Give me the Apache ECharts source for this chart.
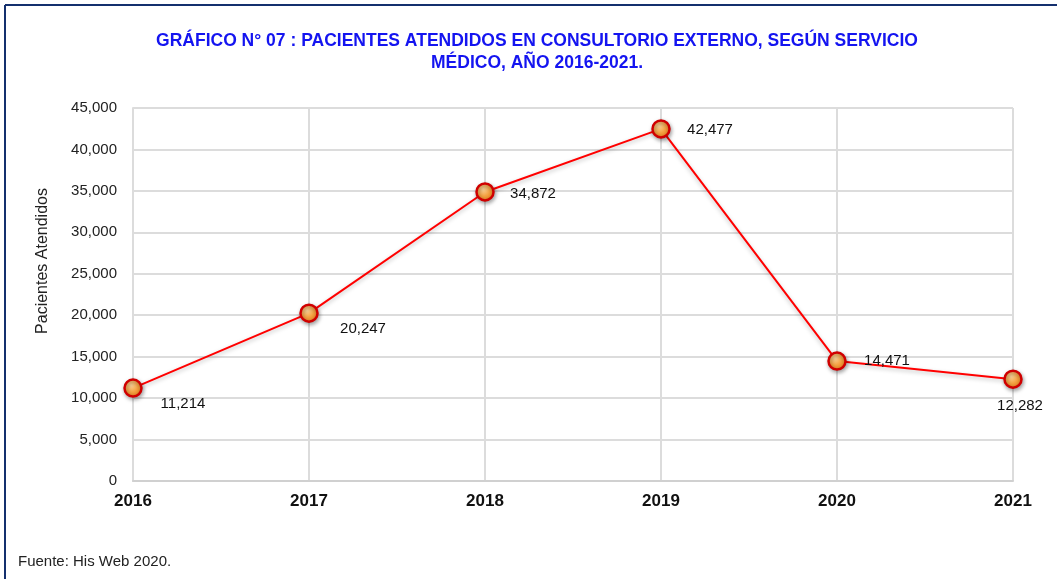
<!DOCTYPE html>
<html>
<head>
<meta charset="utf-8">
<script src="https://cdn.jsdelivr.net/npm/echarts@6/dist/echarts.min.js"></script>
<style>
  html, body { margin: 0; padding: 0; background: #fff; }
  #chart { width: 1057px; height: 579px; }
</style>
</head>
<body>
<div id="chart"></div>
<script>
const years = ['2016', '2017', '2018', '2019', '2020', '2021']
const pacientes = [11214, 20247, 34872, 42477, 14471, 12282]
const yTicks = [0, 5000, 10000, 15000, 20000, 25000, 30000, 35000, 40000, 45000]

// where each value label sits relative to its marker
const labelOffsets = [[50, 16], [54, 16], [48, 2], [49, 1], [50, 0], [7, 27]]

const font = '"Liberation Sans", Arial, sans-serif'

const chart = echarts.init(document.getElementById('chart'))

const option = {
  animation: false,
  graphic: [
    { type: 'line', shape: { x1: 5, y1: 5, x2: 1057, y2: 5 }, style: { stroke: '#14306e', lineWidth: 2 } },
    { type: 'line', shape: { x1: 5, y1: 5, x2: 5, y2: 579 }, style: { stroke: '#14306e', lineWidth: 2 } },
    {
      type: 'text', x: 43, y: 261, rotation: Math.PI / 2,
      style: {
        text: 'Pacientes Atendidos', font: '16px ' + font, fill: '#222',
        align: 'center', verticalAlign: 'middle'
      }
    },
    {
      type: 'text', left: 18, top: 554,
      style: { text: 'Fuente: His Web 2020.', font: '15px ' + font, fill: '#222' }
    }
  ],
  title: {
    text: 'GRÁFICO N° 07 : PACIENTES ATENDIDOS EN CONSULTORIO EXTERNO, SEGÚN SERVICIO\nMÉDICO, AÑO 2016-2021.',
    left: 532,
    top: 25,
    textAlign: 'center',
    textStyle: {
      color: '#1414f0',
      fontFamily: font,
      fontWeight: 'bold',
      fontSize: 17.5,
      lineHeight: 22
    }
  },
  grid: {
    left: 133,
    right: 44,
    top: 108,
    bottom: 98
  },
  xAxis: {
    type: 'category',
    data: years,
    boundaryGap: false,
    axisTick: { show: false },
    axisLine: { lineStyle: { color: '#d0d0d0', width: 2 } },
    splitLine: { show: true, lineStyle: { color: '#dcdcdc', width: 2 } },
    axisLabel: {
      color: '#111',
      fontFamily: font,
      fontWeight: 'bold',
      fontSize: 17,
      margin: 12
    }
  },
  yAxis: {
    type: 'value',
    min: yTicks[0],
    max: yTicks[yTicks.length - 1],
    interval: yTicks[1] - yTicks[0],
    axisLine: { show: true, lineStyle: { color: '#dcdcdc', width: 2 } },
    axisTick: { show: false },
    splitLine: { lineStyle: { color: '#dcdcdc', width: 2 } },
    axisLabel: {
      color: '#222',
      fontFamily: font,
      fontSize: 15,
      margin: 16,
      formatter: v => v.toLocaleString('en-US')
    }
  },
  series: [{
    type: 'line',
    data: pacientes.map((v, i) => ({
      value: v,
      label: { offset: labelOffsets[i] }
    })),
    symbol: 'circle',
    symbolSize: 17,
    lineStyle: {
      color: '#ff0000',
      width: 2,
      shadowColor: 'rgba(0,0,0,0.25)',
      shadowBlur: 4,
      shadowOffsetY: 2
    },
    itemStyle: {
      color: {
        type: 'radial', x: 0.4, y: 0.35, r: 0.7,
        colorStops: [
          { offset: 0, color: '#fcd49a' },
          { offset: 0.5, color: '#f5a445' },
          { offset: 1, color: '#e57b15' }
        ]
      },
      borderColor: '#d00000',
      borderWidth: 2.5,
      shadowColor: 'rgba(0,0,0,0.35)',
      shadowBlur: 4,
      shadowOffsetX: 1,
      shadowOffsetY: 2
    },
    label: {
      show: true,
      position: 'inside',
      color: '#111',
      fontFamily: font,
      fontSize: 15,
      formatter: p => p.value.toLocaleString('en-US')
    },
    z: 3
  }]
}

chart.setOption(option)
</script>
</body>
</html>
